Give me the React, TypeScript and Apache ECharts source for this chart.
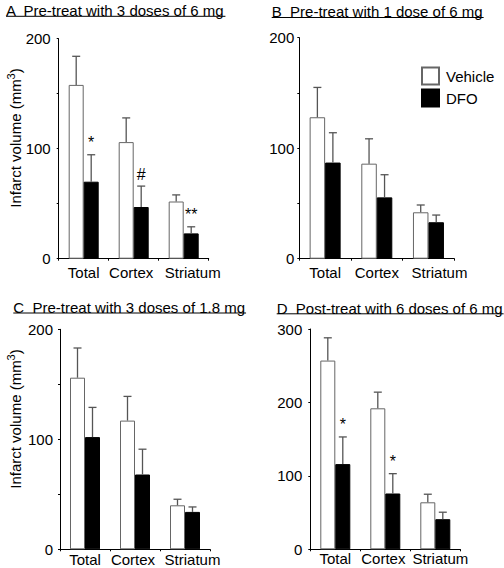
import React, { useEffect, useRef } from "react";
import * as echarts from "echarts";

const categories = ["Total", "Cortex", "Striatum"];
const seriesNames = ["Vehicle", "DFO"];

const panelTitles = [
  "A  Pre-treat with 3 doses of 6 mg",
  "B  Pre-treat with 1 dose of 6 mg",
  "C  Pre-treat with 3 doses of 1.8 mg",
  "D  Post-treat with 6 doses of 6 mg",
];

// Panel A
const vehicleA = [158, 106, 52];
const vehicleSemA = [26, 22, 6];
const dfoA = [70, 47, 23];
const dfoSemA = [24.5, 19, 6];
const marksA = ["*", "#", "**"];

// Panel B
const vehicleB = [128, 86, 42];
const vehicleSemB = [27, 22.5, 6.6];
const dfoB = [87, 55.5, 33];
const dfoSemB = [27, 20.5, 6.5];
const marksB = ["", "", ""];

// Panel C
const vehicleC = [156, 117, 40];
const vehicleSemC = [27, 22, 5.5];
const dfoC = [102, 68, 34];
const dfoSemC = [27, 23, 4.5];
const marksC = ["", "", ""];

// Panel D
const vehicleD = [257, 192, 64];
const vehicleSemD = [31, 22, 11];
const dfoD = [116, 76, 41];
const dfoSemD = [37, 27, 9.5];
const marksD = ["*", "*", ""];

const yMaxes = [200, 200, 200, 300];
const yInterval = 100;
const yAxisTitle = "Infarct volume (mm{sup|3})";

const FONT = '"Liberation Sans", Arial, Helvetica, sans-serif';

const panels = [
  { v: vehicleA, vs: vehicleSemA, d: dfoA, ds: dfoSemA, marks: marksA },
  { v: vehicleB, vs: vehicleSemB, d: dfoB, ds: dfoSemB, marks: marksB },
  { v: vehicleC, vs: vehicleSemC, d: dfoC, ds: dfoSemC, marks: marksC },
  { v: vehicleD, vs: vehicleSemD, d: dfoD, ds: dfoSemD, marks: marksD },
];

// layout (styles / positions only)
const grids = [
  { left: 58.7, top: 38.7, width: 150, height: 220 },
  { left: 299.3, top: 37.7, width: 155, height: 221 },
  { left: 60, top: 329.3, width: 150, height: 220 },
  { left: 310.3, top: 329, width: 150, height: 220.3 },
];
const yLabelMargin = [8, 5, 7, 8];
const xLabelMargin = [6, 6, 3, 2];
const xLabelPads = [
  { Total: [0, 0, 0, 0], Cortex: [0, 5, 0, 0], Striatum: [0, 0, 0, 18] },
  { Total: [0, 0, 0, 0], Cortex: [0, 0, 0, 0], Striatum: [0, 0, 0, 22] },
  { Total: [0, 0, 0, 0], Cortex: [0, 4, 0, 0], Striatum: [0, 0, 0, 15] },
  { Total: [0, 0, 0, 0], Cortex: [0, 4, 0, 0], Striatum: [0, 0, 0, 10] },
];
const titlePos = [
  { x: 6, y: 10.6, uy: 16.3 },
  { x: 271.7, y: 11.2, uy: 17.5 },
  { x: 13.3, y: 307.6, uy: 313 },
  { x: 276.7, y: 308.4, uy: 313.8 },
];
const barW = [15, 15.5, 15, 15];

function measure(text: string, size: number) {
  const c = document.createElement("canvas");
  const ctx = c.getContext("2d");
  if (!ctx) return text.length * size * 0.5;
  ctx.font = `${size}px "Liberation Sans", Arial, sans-serif`;
  return ctx.measureText(text).width;
}

export default function App() {
  const ref = useRef<HTMLDivElement>(null);

  useEffect(() => {
    if (!ref.current) return;
    const chart = echarts.init(ref.current, undefined, { renderer: "svg" });

    const xAxes: any[] = [];
    const yAxes: any[] = [];
    const series: any[] = [];
    const graphics: any[] = [];

    panels.forEach((p, i) => {
      const pads: any = xLabelPads[i];
      const rich: any = {};
      categories.forEach((c) => {
        rich[c] = { padding: pads[c], fontSize: 15, fontFamily: FONT, color: "#000" };
      });
      xAxes.push({
        type: "category",
        gridIndex: i,
        data: categories,
        axisLine: { lineStyle: { color: "#000", width: 1 } },
        axisTick: { show: true, length: 2, lineStyle: { color: "#000" } },
        axisLabel: {
          interval: 0,
          hideOverlap: false,
          margin: xLabelMargin[i],
          formatter: (val: string) => `{${val}|${val}}`,
          rich,
          fontSize: 15,
          fontFamily: FONT,
          color: "#000",
        },
      });
      yAxes.push({
        type: "value",
        gridIndex: i,
        min: 0,
        max: yMaxes[i],
        interval: yInterval,
        splitLine: { show: false },
        axisLine: { show: true, lineStyle: { color: "#000", width: 1 } },
        axisTick: { show: true, length: 2, lineStyle: { color: "#000" } },
        minorTick: { show: i !== 3, splitNumber: 2, length: 2, lineStyle: { color: "#000" } },
        minorSplitLine: { show: false },
        axisLabel: { margin: yLabelMargin[i], fontSize: 15, fontFamily: FONT, color: "#000" },
      });

      series.push({
        name: seriesNames[0],
        type: "bar",
        xAxisIndex: i,
        yAxisIndex: i,
        data: p.v,
        barWidth: barW[i],
        barGap: "0%",
        itemStyle: { color: "#fff", borderColor: "#666", borderWidth: 1 },
        z: 2,
      });
      series.push({
        name: seriesNames[1],
        type: "bar",
        xAxisIndex: i,
        yAxisIndex: i,
        data: p.d,
        barWidth: barW[i],
        barGap: "0%",
        itemStyle: { color: "#000", borderColor: "#000", borderWidth: 1 },
        z: 2,
      });

      const mkErr = (means: number[], sems: number[], side: number, marks: string[] | null) => ({
        type: "custom",
        xAxisIndex: i,
        yAxisIndex: i,
        z: 3,
        silent: true,
        encode: { x: 0, y: [1, 2] },
        data: means.map((m, k) => [k, m, m + sems[k]]),
        renderItem: (params: any, api: any) => {
          const cat = api.value(0);
          const mean = api.value(1);
          const top = api.value(2);
          const p0 = api.coord([cat, mean]);
          const p1 = api.coord([cat, top]);
          const x = p0[0] + (side * barW[i]) / 2;
          const st = { stroke: "#555", lineWidth: 1.3 };
          const children: any[] = [
            { type: "line", shape: { x1: x, y1: p0[1], x2: x, y2: p1[1] }, style: st },
            { type: "line", shape: { x1: x - 4, y1: p1[1], x2: x + 4, y2: p1[1] }, style: st },
          ];
          const mk = marks ? marks[params.dataIndex] : "";
          if (mk) {
            children.push({
              type: "text",
              style: {
                x,
                y: p1[1] - 4,
                text: mk,
                align: "center",
                verticalAlign: "bottom",
                fontSize: 16,
                fontFamily: FONT,
                fill: "#000",
              },
            });
          }
          return { type: "group", children };
        },
      });
      series.push(mkErr(p.v, p.vs, -1, null));
      series.push(mkErr(p.d, p.ds, 1, p.marks));

      // titles with underline
      const tp = titlePos[i];
      const w = measure(panelTitles[i], 15);
      graphics.push({
        type: "text",
        x: tp.x,
        y: tp.y,
        style: {
          text: panelTitles[i],
          fontSize: 15,
          fontFamily: FONT,
          fill: "#000",
          align: "left",
          verticalAlign: "middle",
        },
      });
      graphics.push({
        type: "line",
        shape: { x1: tp.x, y1: tp.uy, x2: tp.x + w + 1, y2: tp.uy },
        style: { stroke: "#000", lineWidth: 1 },
      });
    });

    // y axis titles (panels A and C)
    const yTitlePos = [
      { x: 15.5, y: 138 },
      { x: 15.5, y: 419 },
    ];
    yTitlePos.forEach((pos) => {
      graphics.push({
        type: "text",
        x: pos.x,
        y: pos.y,
        rotation: Math.PI / 2,
        style: {
          text: yAxisTitle,
          fontSize: 15,
          fontFamily: FONT,
          fill: "#000",
          align: "center",
          verticalAlign: "middle",
          lineHeight: 20,
          rich: {
            sup: { fontSize: 11, fontFamily: FONT, fill: "#000", verticalAlign: "top", lineHeight: 10 },
          },
        },
      });
    });

    chart.setOption({
      animation: false,
      backgroundColor: "#fff",
      grid: grids.map((g) => ({ ...g, containLabel: false })),
      xAxis: xAxes,
      yAxis: yAxes,
      legend: {
        data: seriesNames,
        orient: "vertical",
        left: 421,
        top: 66.5,
        itemWidth: 17,
        itemHeight: 17,
        itemGap: 3,
        icon: "rect",
        padding: 0,
        textStyle: { fontSize: 15, fontFamily: FONT, color: "#000", padding: [0, 0, 0, 2] },
        selectedMode: false,
      },
      series,
      graphic: graphics,
    });

    return () => {
      chart.dispose();
    };
  }, []);

  return (
    <div
      ref={ref}
      style={{ position: "absolute", left: 0, top: 0, width: 504, height: 568, background: "#fff" }}
    />
  );
}
